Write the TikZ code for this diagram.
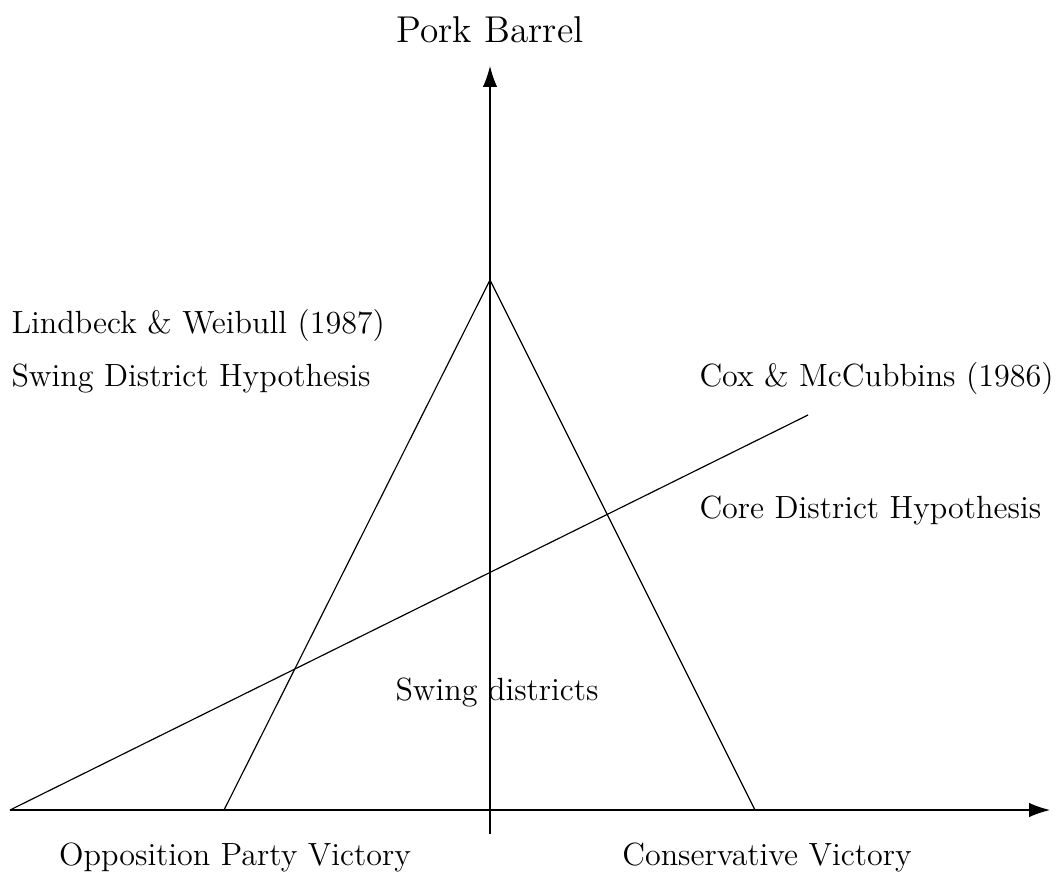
\documentclass[tikz,border=0pt]{standalone}
\usetikzlibrary{arrows.meta}
\begin{document}
\begin{tikzpicture}[x=0.383pt,y=-0.383pt,
  lbl/.style={inner sep=0pt,font=\fontsize{12.3}{14}\selectfont},
  ttl/.style={inner sep=0pt,font=\fontsize{14.3}{17}\selectfont},
  ln/.style={line width=0.45pt},
  ax/.style={line width=0.45pt,-{Latex[length=8pt,width=5.5pt]}}]
\useasboundingbox (0,0) rectangle (1063,873);
\coordinate (xs) at (10,810);
\coordinate (xe) at (1050,810);
\coordinate (ys) at (490,834);
\coordinate (ye) at (490,66);
\coordinate (apex) at (490,280);
\coordinate (bl) at (224,810);
\coordinate (br) at (755,810);
\coordinate (ce) at (808,415);
\draw[ax] (xs) -- (xe);
\draw[ax] (ys) -- (ye);
\draw[ln] (bl) -- (apex) -- (br);
\draw[ln] (xs) -- (ce);
\node[ttl] (pb) at (490,30) {Pork Barrel};
\node[lbl,anchor=west] (lw) at (11,325) {Lindbeck \& Weibull (1987)};
\node[lbl,anchor=west] (sdh) at (11,378) {Swing District Hypothesis};
\node[lbl,anchor=west] (cm) at (699,378) {Cox \& McCubbins (1986)};
\node[lbl,anchor=west] (cdh) at (699,510) {Core District Hypothesis};
\node[lbl] (sd) at (497,692) {Swing districts};
\node[lbl] (opv) at (235,857) {Opposition Party Victory};
\node[lbl] (cv) at (767,857) {Conservative Victory};
\end{tikzpicture}
\end{document}
